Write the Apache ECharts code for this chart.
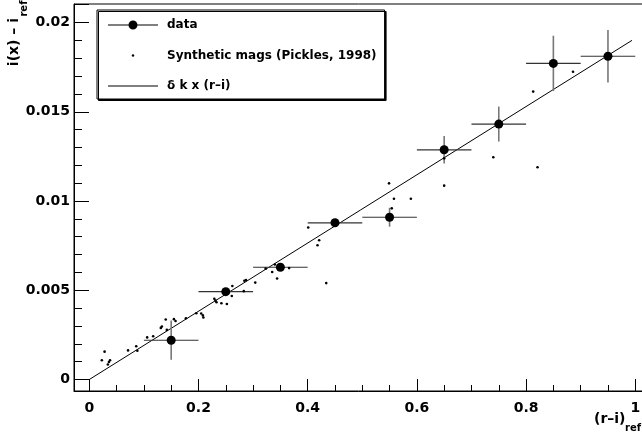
<!DOCTYPE html>
<html>
<head>
<meta charset="utf-8">
<script src="https://cdn.jsdelivr.net/npm/echarts@6/dist/echarts.min.js"></script>
<style>html,body{margin:0;padding:0;background:#fff}#c{width:642px;height:437px}</style>
</head>
<body>
<div id="c"></div>
<script>
// ---- data ----
var dataX = [0.15, 0.25, 0.35, 0.45, 0.55, 0.65, 0.75, 0.85, 0.95];
var dataY = [0.0022, 0.00492, 0.00629, 0.00878, 0.00909, 0.01287, 0.01431, 0.01771, 0.01811];
var dataXErr = [0.05, 0.05, 0.05, 0.05, 0.05, 0.05, 0.05, 0.05, 0.05];
var dataYErr = [0.0011, 0.0002, 0.0002, 0.0002, 0.00053, 0.00077, 0.00098, 0.00155, 0.00147];

var synX = [0.023,0.028,0.034,0.036,0.038,0.071,0.086,0.088,0.106,0.117,0.131,0.133,0.140,0.142,0.155,0.158,0.177,0.196,0.205,0.208,0.209,0.229,0.231,0.233,0.242,0.252,0.261,0.262,0.283,0.284,0.287,0.304,0.323,0.335,0.344,0.340,0.366,0.401,0.421,0.418,0.434,0.549,0.558,0.589,0.554,0.650,0.650,0.740,0.821,0.813,0.886];
var synY = [0.00108,0.00156,0.00084,0.00098,0.00108,0.00163,0.00186,0.00161,0.00236,0.00242,0.00289,0.00297,0.00336,0.00278,0.00338,0.00328,0.00343,0.00371,0.00370,0.00359,0.00347,0.00452,0.00442,0.00433,0.00427,0.00423,0.00468,0.00524,0.00495,0.00553,0.00557,0.00543,0.00621,0.00602,0.00566,0.00644,0.00624,0.00852,0.00780,0.00752,0.00540,0.01099,0.01013,0.01013,0.00959,0.01239,0.01086,0.01245,0.01189,0.01613,0.01724];

var lineX = [0, 0.994];
var lineY = [0, 0.0190];

var seriesNames = ['data', 'Synthetic mags (Pickles, 1998)', 'δ k x (r–i)'];
var xTitle = '(r–i)';
var yTitle = 'i(x) – i';
var subTitle = 'ref';

// ---- build ----
var FONT = '"DejaVu Sans", sans-serif';
function zip(a, b) { return a.map(function (v, i) { return [v, b[i]]; }); }
var dataPts = zip(dataX, dataY);
var errPts = dataX.map(function (v, i) { return [v, dataY[i], dataXErr[i], dataYErr[i]]; });

var chart = echarts.init(document.getElementById('c'), null, {renderer: 'canvas'});
chart.setOption({
  animation: false,
  backgroundColor: '#fff',
  grid: {left: 74, top: 4, right: -2, bottom: 46, containLabel: false, outerBoundsMode: 'none',
         show: true, borderColor: '#000', borderWidth: 1, backgroundColor: 'transparent'},
  xAxis: {
    type: 'value', min: -0.028, max: 1.016, splitNumber: 5,
    axisLine: {onZero: false, lineStyle: {color: '#000', width: 1}},
    axisTick: {inside: true, length: 12, lineStyle: {color: '#000'}},
    minorTick: {show: true, splitNumber: 4, length: 6, lineStyle: {color: '#000'}},
    splitLine: {show: false},
    axisLabel: {showMinLabel: false, showMaxLabel: false, margin: 10, color: '#000',
                fontFamily: FONT, fontWeight: 'bold', fontSize: 14}
  },
  yAxis: {
    type: 'value', min: -0.000644, max: 0.021037, splitNumber: 5,
    axisLine: {onZero: false, lineStyle: {color: '#000', width: 1}},
    axisTick: {inside: true, length: 15, lineStyle: {color: '#000'}},
    minorTick: {show: true, splitNumber: 5, length: 8, lineStyle: {color: '#000'}},
    splitLine: {show: false},
    axisLabel: {showMinLabel: false, showMaxLabel: false, margin: 4, color: '#000',
                fontFamily: FONT, fontWeight: 'bold', fontSize: 14}
  },
  legend: {
    orient: 'vertical', left: 97, top: 10,
    padding: [9, 8, 7, 11], itemWidth: 50, itemHeight: 14, itemGap: 17.5,
    backgroundColor: '#fff', borderColor: '#000', borderWidth: 1, borderRadius: 0,
    shadowColor: '#000', shadowOffsetX: 1.5, shadowOffsetY: 1.5, shadowBlur: 0,
    textStyle: {fontFamily: FONT, fontWeight: 'bold', fontSize: 12, color: '#000', padding: [0, 0, 0, 4]},
    selectedMode: false,
    itemStyle: {opacity: 1},
    data: [
      {name: seriesNames[0], icon: 'path://M0,6.5 L50,6.5 L50,7.5 L0,7.5 Z M29.5,7 A4.5,4.5 0 1 1 20.5,7 A4.5,4.5 0 1 1 29.5,7 Z', itemStyle: {color: '#000', opacity: 1}},
      {name: seriesNames[1], icon: 'path://M0,0 M50,14 M26.2,7 A1.2,1.2 0 1 1 23.8,7 A1.2,1.2 0 1 1 26.2,7 Z', itemStyle: {color: '#000', opacity: 1}},
      {name: seriesNames[2], icon: 'path://M0,6.6 L50,6.6 L50,7.4 L0,7.4 Z', itemStyle: {color: '#000', opacity: 1}}
    ]
  },
  series: [
    {
      name: seriesNames[2], type: 'line', data: zip(lineX, lineY), symbol: 'none',
      lineStyle: {color: '#000', width: 1}, itemStyle: {color: '#000'}, z: 2
    },
    {
      name: 'err', type: 'custom', data: errPts, z: 3, silent: true,
      renderItem: function (params, api) {
        var x = api.value(0), y = api.value(1), ex = api.value(2), ey = api.value(3);
        var h1 = api.coord([x - ex, y]), h2 = api.coord([x + ex, y]);
        var v1 = api.coord([x, y - ey]), v2 = api.coord([x, y + ey]);
        return {type: 'group', children: [
          {type: 'line', shape: {x1: h1[0], y1: h1[1], x2: h2[0], y2: h2[1]}, style: {stroke: '#333', lineWidth: 1.2}},
          {type: 'line', shape: {x1: v1[0], y1: v1[1], x2: v2[0], y2: v2[1]}, style: {stroke: '#777', lineWidth: 1.6}}
        ]};
      }
    },
    {
      name: seriesNames[1], type: 'scatter', data: zip(synX, synY), symbol: 'circle', symbolSize: 2.6,
      itemStyle: {color: '#000', opacity: 1}, z: 4
    },
    {
      name: seriesNames[0], type: 'scatter', data: dataPts, symbol: 'circle', symbolSize: 9,
      itemStyle: {color: '#000', opacity: 1}, z: 5
    }
  ],
  graphic: [
    {type: 'text', x: 594, y: 419, style: {text: xTitle, font: 'bold 14px ' + FONT, fill: '#000', align: 'left', verticalAlign: 'middle'}},
    {type: 'text', x: 625, y: 428, style: {text: subTitle, font: 'bold 10px ' + FONT, fill: '#000', align: 'left', verticalAlign: 'middle'}},
    {type: 'text', x: 14.5, y: 18, rotation: Math.PI / 2, style: {text: yTitle, font: 'bold 14px ' + FONT, fill: '#000', align: 'right', verticalAlign: 'middle'}},
    {type: 'text', x: 24.5, y: 0.5, rotation: Math.PI / 2, style: {text: subTitle, font: 'bold 10px ' + FONT, fill: '#000', align: 'right', verticalAlign: 'middle'}}
  ]
});
</script>
</body>
</html>
